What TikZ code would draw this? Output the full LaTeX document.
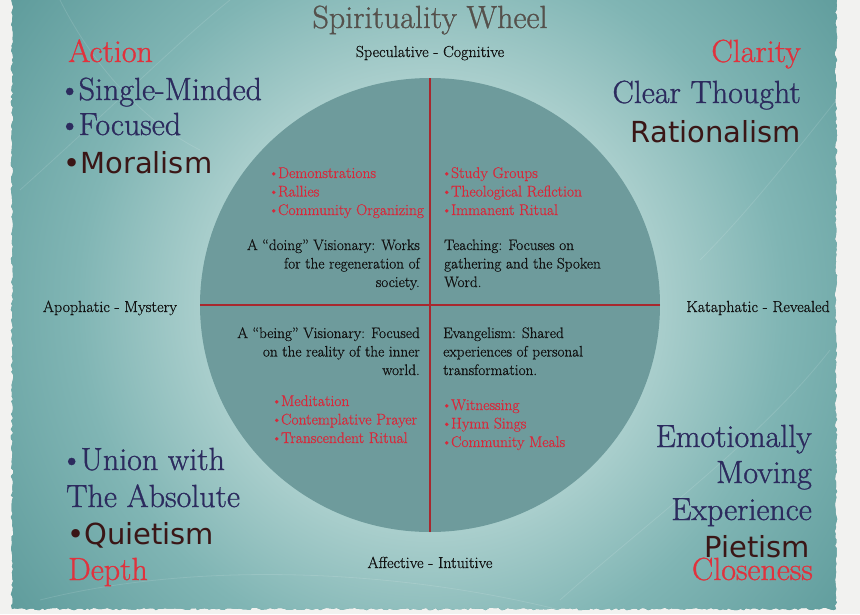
\documentclass[tikz,border=0pt]{standalone}
\usepackage{fontspec}
\setmainfont{Latin Modern Roman}[FakeBold=0.7]
\newfontfamily\bigserif{Latin Modern Roman}[FakeBold=1.0]
\newfontfamily\sansf{DejaVu Sans}
\usetikzlibrary{shapes.geometric,decorations.pathmorphing,calc}
\definecolor{paper}{HTML}{F2F2F0}
\definecolor{glowlight}{HTML}{A9CECC}
\definecolor{glowmid}{HTML}{80B5B4}
\definecolor{glowdark}{HTML}{5F9C9C}
\definecolor{wheelfill}{HTML}{6E9B9C}
\definecolor{redline}{HTML}{A8282E}
\definecolor{txtred}{HTML}{E0323D}
\definecolor{listred}{HTML}{D8283A}
\definecolor{navy}{HTML}{2C2B5E}
\definecolor{maroon}{HTML}{3A1616}
\definecolor{titlegray}{HTML}{55514C}
\definecolor{ink}{HTML}{111111}
\pgfdeclareradialshading{glow}{\pgfpoint{0bp}{0bp}}{color(0bp)=(glowlight); color(11bp)=(glowlight); color(17bp)=(glowmid); color(25bp)=(glowdark); color(50bp)=(glowdark)}
\newcommand{\bul}{\textbullet\kern-0.08em}
\begin{document}
\begin{tikzpicture}[x=1pt,y=-1pt,
  big/.style={font=\bigserif\fontsize{32}{34}\selectfont, inner sep=0},
  bigsans/.style={font=\sansf\fontsize{29}{30}\selectfont, inner sep=0, text=maroon},
  axislab/.style={font=\fontsize{16}{16}\selectfont, inner sep=0, text=ink},
  desc/.style={font=\fontsize{15.2}{18.5}\selectfont, inner sep=0, text=ink},
  redlist/.style={font=\fontsize{15.5}{18.5}\selectfont, inner sep=0, text=listred, align=left}
]
\useasboundingbox (0,0) rectangle (860,614);
\fill[paper] (0,0) rectangle (860,614);
\pgfmathsetseed{7}
\begin{scope}
\clip[decorate, decoration={random steps,segment length=3pt,amplitude=1.2pt}] (12,-6) rectangle (836,609);
\fill[glowdark] (0,0) rectangle (860,614);
\shade[shading=glow] (430,305) circle (520pt);
\begin{scope}[white, opacity=0.12, line width=0.8pt]
\draw (20,190) .. controls (120,100) and (180,40) .. (230,0);
\draw (60,0) .. controls (90,60) and (140,120) .. (200,150);
\draw (900,20) .. controls (820,120) and (760,200) .. (700,260);
\draw (40,600) .. controls (200,560) and (400,570) .. (560,610);
\draw (560,600) .. controls (650,520) and (760,440) .. (830,350);
\end{scope}
\end{scope}
\node[ellipse, inner sep=0, minimum width=460pt, minimum height=454pt, fill=wheelfill] (wheel) at (430,305) {};
\fill[redline] ($(wheel.north)+(-1,0)$) rectangle ($(wheel.south)+(1,0)$);
\fill[redline] ($(wheel.west)+(0,-1)$) rectangle ($(wheel.east)+(0,1)$);
% title and axis labels
\node[font=\bigserif\fontsize{32}{34}\selectfont, inner sep=0, text=titlegray, anchor=base] (title) at (430,28) {Spirituality Wheel};
\node[axislab, anchor=base] (spec) at (430,57) {Speculative - Cognitive};
\node[axislab, anchor=base] (apo) at (110,312) {Apophatic - Mystery};
\node[axislab, anchor=base] (kat) at (758,312) {Kataphatic - Revealed};
\node[axislab, anchor=base] (aff) at (430,568) {Affective - Intuitive};
% top left corner
\node[big, text=txtred, anchor=base west] (action) at (68,62) {Action};
\node[big, text=navy, anchor=base west] (single) at (58,100) {\bul Single-Minded};
\node[big, text=navy, anchor=base west] (focused) at (58,135) {\bul Focused};
\node[bigsans, anchor=base west] (moral) at (63,173) {\textbullet Moralism};
% top right corner
\node[big, text=txtred, anchor=base east] (clarity) at (801,62) {Clarity};
\node[big, text=navy, anchor=base east] (clear) at (801,103) {Clear Thought};
\node[bigsans, anchor=base east] (ration) at (801,142) {Rationalism};
% bottom left corner
\node[big, text=navy, anchor=base west] (union) at (60,470) {\bul Union with};
\node[big, text=navy, anchor=base west] (absolute) at (66,507) {The Absolute};
\node[bigsans, anchor=base west] (quiet) at (67,544) {\textbullet Quietism};
\node[big, text=txtred, anchor=base west] (depth) at (68,580) {Depth};
% bottom right corner
\node[big, text=navy, anchor=base east] (emot) at (812,447) {Emotionally};
\node[big, text=navy, anchor=base east] (moving) at (812,483) {Moving};
\node[big, text=navy, anchor=base east] (exper) at (812,520) {Experience};
\node[bigsans, anchor=base east] (pietism) at (810,557) {Pietism};
\node[big, text=txtred, anchor=base east] (close) at (813,580) {Closeness};
% quadrant texts (anchor = baseline of last line)
\node[redlist, anchor=base west] (tllist) at (268,215) {\bul Demonstrations\\\bul Rallies\\\bul Community Organizing};
\node[desc, align=right, anchor=base east] (tldesc) at (420,287) {A “doing” Visionary: Works\\for the regeneration of\\society.};
\node[redlist, anchor=base west] (trlist) at (441,215) {\bul Study Groups\\\bul Theological Reflction\\\bul Immanent Ritual};
\node[desc, align=left, anchor=base west] (trdesc) at (444,287) {Teaching: Focuses on\\gathering and the Spoken\\Word.};
\node[desc, align=right, anchor=base east] (bldesc) at (420,375) {A “being” Visionary: Focused\\on the reality of the inner\\world.};
\node[redlist, anchor=base west] (bllist) at (271,443) {\bul Meditation\\\bul Contemplative Prayer\\\bul Transcendent Ritual};
\node[desc, align=left, anchor=base west] (brdesc) at (443,375) {Evangelism: Shared\\experiences of personal\\transformation.};
\node[redlist, anchor=base west] (brlist) at (441,447) {\bul Witnessing\\\bul Hymn Sings\\\bul Community Meals};
\end{tikzpicture}
\end{document}
